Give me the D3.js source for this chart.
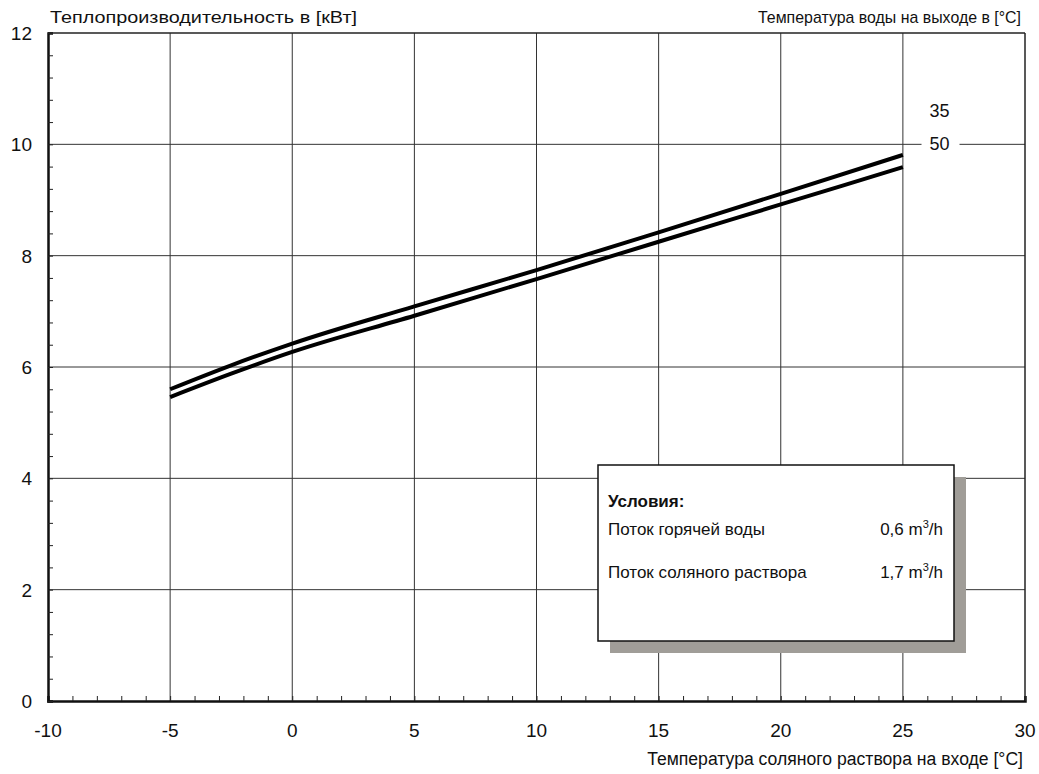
<!DOCTYPE html>
<html>
<head>
<meta charset="utf-8">
<script src="https://cdn.jsdelivr.net/npm/d3@7"></script>
<style>
  body { margin: 0; background: #fff; }
  text { font-family: "Liberation Sans", Arial, sans-serif; fill: #111; }
</style>
</head>
<body>
<div id="chart"></div>
<script>
// data
var brineTemp = [-5, -2.5, 0, 5, 10, 15, 20, 25];
var heat35 = [5.60, 6.03, 6.42, 7.09, 7.74, 8.42, 9.11, 9.81];
var heat50 = [5.46, 5.88, 6.27, 6.92, 7.58, 8.25, 8.92, 9.59];
var seriesNames = ["35", "50"];
var xTicks = [-10, -5, 0, 5, 10, 15, 20, 25, 30];
var yTicks = [0, 2, 4, 6, 8, 10, 12];
var conditions = [
  ["Поток горячей воды", "0,6 m", "/h"],
  ["Поток соляного раствора", "1,7 m", "/h"]
];

var svgWidth = 1039;
var svgHeight = 774;
var margin = { top: 33, right: 14, bottom: 73, left: 48 };
var width = svgWidth - margin.left - margin.right;
var height = svgHeight - margin.top - margin.bottom;

var svg = d3.select("#chart").append("svg")
  .attr("width", svgWidth)
  .attr("height", svgHeight);

var g = svg.append("g")
  .attr("transform", `translate(${margin.left}, ${margin.top})`);

var x = d3.scaleLinear().domain([-10, 30]).range([0, width]);
var y = d3.scaleLinear().domain([0, 12]).range([height, 0]);

// grid
g.selectAll(".vgrid").data(xTicks.slice(1, -1)).enter().append("line")
  .attr("x1", d => x(d)).attr("x2", d => x(d))
  .attr("y1", 0).attr("y2", height)
  .attr("stroke", "#333").attr("stroke-width", 1);
g.selectAll(".hgrid").data(yTicks.slice(1, -1)).enter().append("line")
  .attr("y1", d => y(d)).attr("y2", d => y(d))
  .attr("x1", 0).attr("x2", width)
  .attr("stroke", "#333").attr("stroke-width", 1);

// frame top / right
g.append("line").attr("x1", 0).attr("x2", width).attr("y1", 0).attr("y2", 0)
  .attr("stroke", "#222").attr("stroke-width", 1.5);
g.append("line").attr("x1", width).attr("x2", width).attr("y1", 0).attr("y2", height)
  .attr("stroke", "#222").attr("stroke-width", 1.5);

// axes
var bottomAxis = d3.axisBottom(x).tickValues(d3.range(-10, 31, 1))
  .tickSize(-5).tickFormat("");
var leftAxis = d3.axisLeft(y).tickValues(d3.range(0, 12.01, 0.4))
  .tickSize(-5).tickFormat("");

var xa = g.append("g").attr("transform", `translate(0, ${height})`).call(bottomAxis);
var ya = g.append("g").call(leftAxis);
[xa, ya].forEach(a => {
  a.select(".domain").attr("stroke", "#111").attr("stroke-width", 2.5);
  a.selectAll(".tick line").attr("stroke", "#222").attr("stroke-width", 1);
});

g.selectAll(".xlab").data(xTicks).enter().append("text")
  .attr("x", d => x(d)).attr("y", height + 36)
  .attr("text-anchor", "middle").attr("font-size", "19px")
  .text(d => d);
g.selectAll(".ylab").data(yTicks).enter().append("text")
  .attr("x", -16).attr("y", d => y(d) + 7)
  .attr("text-anchor", "end").attr("font-size", "19px")
  .text(d => d);

// titles
svg.append("text").attr("x", 50).attr("y", 23).attr("font-size", "17px")
  .attr("textLength", 307).attr("lengthAdjust", "spacingAndGlyphs")
  .text("Теплопроизводительность в [кВт]");
svg.append("text").attr("x", 1021).attr("y", 23).attr("font-size", "17px")
  .attr("text-anchor", "end")
  .attr("textLength", 263).attr("lengthAdjust", "spacingAndGlyphs")
  .text("Температура воды на выходе в [°C]");
svg.append("text").attr("x", 1023).attr("y", 765).attr("font-size", "17.6px")
  .attr("text-anchor", "end").text("Температура соляного раствора на входе [°C]");

// curve labels
var lblX = x(26.5);
g.append("rect").attr("x", lblX - 18).attr("y", y(10) - 12)
  .attr("width", 38).attr("height", 22).attr("fill", "#fff");
g.append("text").attr("x", lblX).attr("y", y(10) - 27)
  .attr("text-anchor", "middle").attr("font-size", "18px").text(seriesNames[0]);
g.append("text").attr("x", lblX).attr("y", y(10) + 6)
  .attr("text-anchor", "middle").attr("font-size", "18px").text(seriesNames[1]);

// curves
var line = d3.line()
  .x((d, i) => x(brineTemp[i]))
  .y(d => y(d))
  .curve(d3.curveMonotoneX);

[heat35, heat50].forEach(s => {
  g.append("path").attr("d", line(s))
    .attr("fill", "none").attr("stroke", "#000").attr("stroke-width", 4);
});

// conditions box
var bx = 598, by = 465, bw = 356, bh = 176;
svg.append("rect").attr("x", bx + 12).attr("y", by + 12)
  .attr("width", bw).attr("height", bh).attr("fill", "#a09d98");
svg.append("rect").attr("x", bx).attr("y", by)
  .attr("width", bw).attr("height", bh)
  .attr("fill", "#fff").attr("stroke", "#111").attr("stroke-width", 1.5);
svg.append("text").attr("x", bx + 10).attr("y", by + 42)
  .attr("font-size", "17px").attr("font-weight", "bold").text("Условия:");
conditions.forEach((c, i) => {
  var ty = by + 70 + i * 43;
  svg.append("text").attr("x", bx + 10).attr("y", ty)
    .attr("font-size", "17px").text(c[0]);
  var t = svg.append("text").attr("x", bx + bw - 11).attr("y", ty)
    .attr("font-size", "17px").attr("text-anchor", "end");
  t.append("tspan").text(c[1]);
  t.append("tspan").attr("font-size", "11px").attr("dy", -7).text("3");
  t.append("tspan").attr("dy", 7).text(c[2]);
});
</script>
</body>
</html>
